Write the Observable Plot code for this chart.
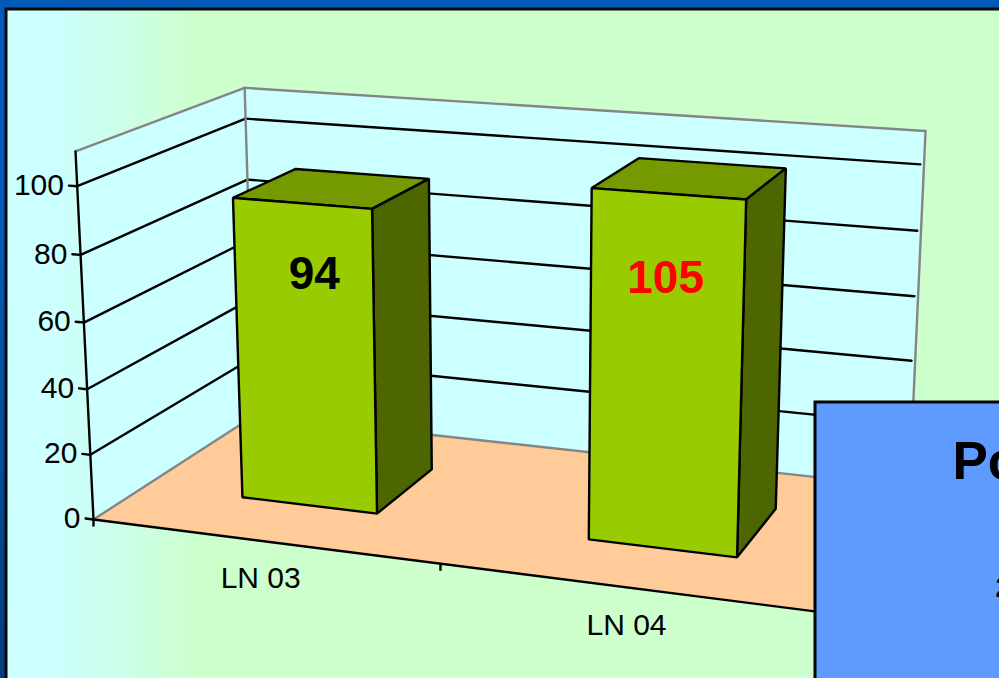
<!DOCTYPE html>
<html>
<head>
<meta charset="utf-8">
<style>html,body{margin:0;padding:0;background:#005bb8;overflow:hidden}svg{display:block}</style>
<script src="https://cdn.jsdelivr.net/npm/d3@7"></script>
<script src="https://cdn.jsdelivr.net/npm/@observablehq/plot@0.6"></script>
</head>
<body>
<script>
const categories = ["LN 03", "LN 04"];
const values = [94, 105];
const barHeights = [92.2, 103];
const valueColors = ["#000000", "#ff0000"];
const yTicks = [0, 20, 40, 60, 80, 100];
const yTop = 110;
const boxTexts = ["Po", "2"];

// perspective camera of the 3D chart: u across, t up, w into the depth
const origin = [93, 519];
const kU = -0.0961, vpU = [-6801, 34.5 / -0.0961];
const kV = -0.0407, vpV = [517, 9193];
const kW = 0.1312, vpW = [1481, -378];
function project(u, v, w) {
  const t = v / yTop;
  const d = 1 + u * kU + t * kV + w * kW;
  return [0, 1].map(i => (origin[i] + u * kU * vpU[i] + t * kV * vpV[i] + w * kW * vpW[i]) / d);
}
const pt = (u, v, w) => { const [x, y] = project(u, v, w); return {x, y}; };
const LW = 2.4;
const poly = (corners, o) => Plot.line(corners.map(c => pt(...c)), {
  x: "x", y: "y", curve: "linear-closed", stroke: "#000", strokeWidth: LW, strokeLinejoin: "miter", ...o
});
const seg = (a, b, o) => Plot.line([pt(...a), pt(...b)], {x: "x", y: "y", stroke: "#000", strokeWidth: LW, ...o});

const GRAY = "#858585";
const halfWidth = 0.1, wFront = 0.3, wBack = 0.7, barShift = -0.002;
const center = i => (i + 0.5) / categories.length;

const walls = [
  poly([[0,0,0],[0,yTop,0],[0,yTop,1],[0,0,1]], {fill: "#ccffff", stroke: "none"}),
  poly([[0,0,1],[0,yTop,1],[1,yTop,1],[1,0,1]], {fill: "#ccffff", stroke: "none"}),
  poly([[0,0,0],[0,0,1],[1,0,1],[1,0,0]], {fill: "#ffcc99", stroke: "none"})
];
const grid = yTicks.slice(1).flatMap(v => [
  seg([0,v,0],[0,v,1]),
  seg([0,v,1],[0.995,v,1])
]);
const edges = [
  seg([0,yTop,0],[0,yTop,1],{stroke:GRAY}),
  seg([0,yTop,1],[1,yTop,1],{stroke:GRAY}),
  seg([0,yTop,1],[0,0,1],{stroke:GRAY}),
  seg([1,yTop,1],[1,0,1],{stroke:GRAY}),
  seg([0,0,0],[0,0,1],{stroke:GRAY}),
  seg([0,0,1],[1,0,1],{stroke:GRAY}),
  seg([0,yTop,0],[0,0,0]),
  seg([0,0,0],[1,0,0])
];
const axisTicks = yTicks.map(v => seg([-0.012,v,0],[0,v,0]));
const bottomTick = Plot.link([pt(0.5,0,0)], {x1:d=>d.x-1, y1:"y", x2:d=>d.x-1, y2:d=>d.y+7, stroke:"#000", strokeWidth:LW});
const originTick = Plot.link([pt(0,0,0)], {x1:"x", y1:"y", x2:"x", y2:d=>d.y+7, stroke:"#000", strokeWidth:LW});

const bars = barHeights.flatMap((v, i) => {
  const c = center(i) + barShift, a = c - halfWidth, b = c + halfWidth;
  return [
    poly([[a,v,wFront],[a,v,wBack],[b,v,wBack],[b,v,wFront]], {fill:"#749a00"}),
    poly([[b,0,wFront],[b,v,wFront],[b,v,wBack],[b,0,wBack]], {fill:"#4d6600"}),
    poly([[a,0,wFront],[a,v,wFront],[b,v,wFront],[b,0,wFront]], {fill:"#99cc00"})
  ];
});

const gradient = () => {
  const defs = d3.create("svg:defs");
  const g = defs.append("linearGradient").attr("id","bg");
  g.append("stop").attr("offset","5%").attr("stop-color","#ccffff");
  g.append("stop").attr("offset","19%").attr("stop-color","#ccffcc");
  return defs.node();
};

const labelDx = [11, -4], labelDy = [71, 84.5];

const chart = Plot.plot({
  width: 999, height: 678, margin: 0,
  style: {background: "linear-gradient(#005bb8 30%, #003d7c)", fontFamily: "Liberation Sans, Arial, sans-serif"},
  x: {domain: [0, 999], range: [0, 999], axis: null},
  y: {domain: [0, 678], range: [0, 678], axis: null},
  marks: [
    gradient,
    Plot.rect([{}], {x1: 6, x2: 1020, y1: 9, y2: 700, fill: "url(#bg)", stroke: "#0a0a0a", strokeWidth: 3}),
    ...walls, ...grid, ...edges, ...axisTicks, originTick, bottomTick, ...bars,
    Plot.text(yTicks, {x: v => project(-0.012, v, 0)[0] - 5, y: v => project(0, v, 0)[1] - 1, text: d => String(d),
      textAnchor: "end", fontSize: 30, fill: "#000"}),
    Plot.text(categories, {x: (d,i) => project(center(i), 0, 0)[0] - 2.5, y: (d,i) => project(center(i), 0, 0)[1] + 37.5, text: d => d,
      textAnchor: "middle", fontSize: 30, fill: "#000"}),
    Plot.text(values, {x: (d,i) => project(center(i), barHeights[i], wFront)[0] + labelDx[i], y: (d,i) => project(center(i), barHeights[i], wFront)[1] + labelDy[i], text: d => String(d),
      textAnchor: "middle", fontSize: 46, fontWeight: "bold", fill: (d,i) => valueColors[i]}),
    Plot.rect([{}], {x1: 815, x2: 1020, y1: 402, y2: 700, fill: "#5f9bff", stroke: "#000", strokeWidth: 3}),
    Plot.text([boxTexts[0]], {x: 952, y: 462, text: d => d, textAnchor: "start", fontSize: 53, fontWeight: "bold", fill: "#000"}),
    Plot.text([boxTexts[1]], {x: 995, y: 587, text: d => d, textAnchor: "start", fontSize: 29, fontWeight: "bold", fill: "#000"})
  ]
});
document.body.append(chart);
</script>
</body>
</html>
